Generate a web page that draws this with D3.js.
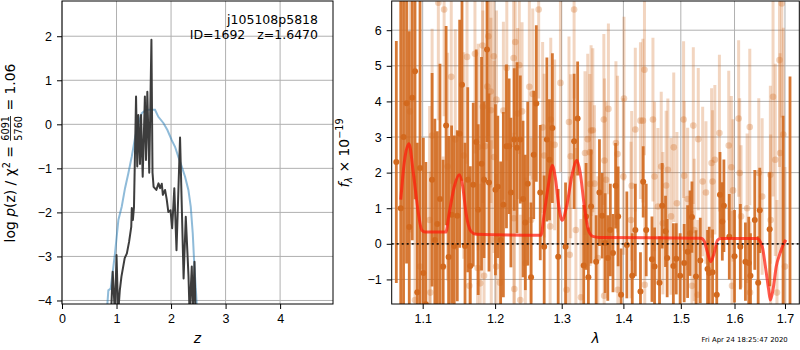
<!DOCTYPE html>
<html>
<head>
<meta charset="utf-8">
<script src="https://cdn.jsdelivr.net/npm/d3@7"></script>
<style>
body { margin: 0; background: #fff; }
svg { display: block; font-family: 'DejaVu Sans', sans-serif; }
.axis text { font-size: 12.5px; fill: #000; }
.axis line { stroke: #000; stroke-width: 1; }
.axis path { display: none; }
.grid line { stroke: #b0b0b0; stroke-width: 1; }
</style>
</head>
<body>
<svg id="chart" width="800" height="350"></svg>
<script>
// 刻度
var zTicks = [0, 1, 2, 3, 4];
var pzTicks = [-4, -3, -2, -1, 0, 1, 2];
var lamTicks = [1.1, 1.2, 1.3, 1.4, 1.5, 1.6, 1.7];
var fluxTicks = [-1, 0, 1, 2, 3, 4, 5, 6];

// log p(z) 黑线 [z, log p]
var pzFit = [[0.90, -4.3], [0.93, -3.35], [0.97, -4.3], [1.00, -2.97], [1.03, -4.3], [1.06, -3.77],
    [1.09, -3.46], [1.15, -3.04], [1.19, -2.93], [1.23, -2.67], [1.27, -2.33], [1.28, -1.9], [1.30, -2.17],
    [1.32, -1.88], [1.358, 0.63], [1.38, -0.96], [1.40, 0.21], [1.43, -0.9], [1.45, 0.21], [1.48, -1.19],
    [1.52, 0.63], [1.54, -0.81], [1.565, 0.74], [1.60, -1.1], [1.64, 1.92], [1.66, -1.1], [1.68, -1.42],
    [1.73, -1.49], [1.77, -1.34], [1.80, -1.45], [1.83, -1.35], [1.85, -1.6], [1.89, -1.49], [1.92, -1.7],
    [1.95, -1.99], [1.99, -1.95], [2.02, -2.36], [2.06, -1.45], [2.10, -2.86], [2.165, -0.3], [2.23, -3.5],
    [2.27, -2.1], [2.32, -3.45], [2.34, -4.3], [2.38, -3.23], [2.40, -4.3], [2.43, -3.12], [2.45, -4.3]];
// 先验 蓝线 [z, log p]
var pzPrior = [[0.82, -4.3], [0.85, -3.77], [0.893, -3.73], [0.972, -2.93], [1.034, -2.17], [1.095, -1.87],
    [1.156, -1.45], [1.217, -1.11], [1.278, -0.74], [1.339, -0.31], [1.40, 0.03], [1.462, 0.25],
    [1.541, 0.33], [1.627, 0.33], [1.706, 0.33], [1.767, 0.17], [1.859, 0.03], [1.933, -0.13],
    [2.012, -0.36], [2.073, -0.51], [2.134, -0.74], [2.196, -0.96], [2.257, -1.19], [2.318, -1.49],
    [2.361, -1.87], [2.398, -2.48], [2.428, -3.23], [2.459, -3.84], [2.48, -4.3]];

// 光谱 深色点 [lambda, flux, err]
var specDark = [[1.0657, 2.3, 3.4], [1.0714, 1.0, 6.5], [1.0750, 3.0, 5.0], [1.0789, 3.95, 4.5],
    [1.0824, 0.47, 5.5], [1.0863, 4.10, 4.0], [1.0899, 4.85, 3.6], [1.0929, -1.36, 4.2], [1.0965, 2.13, 4.8],
    [1.1009, -0.82, 3.8], [1.1042, -1.70, 4.0], [1.1125, 1.80, 3.0], [1.1162, 0.11, 3.4], [1.1195, 0.56, 2.6],
    [1.1231, 1.26, 3.8], [1.1273, -0.64, 3.0], [1.1314, 3.32, 2.8], [1.1348, -0.37, 3.4], [1.1389, 0.82, 2.5],
    [1.1425, -0.06, 3.1], [1.1467, 0.79, 2.4], [1.1500, 3.09, 3.2], [1.1532, 4.47, 2.7], [1.1574, -0.06, 2.9],
    [1.1612, 1.80, 2.6], [1.1648, -0.62, 2.8], [1.1689, 1.66, 2.3], [1.1731, 2.86, 2.6], [1.1759, 0.96, 2.4],
    [1.1806, 2.25, 3.0], [1.1842, 1.80, 2.2], [1.1884, 5.46, 2.6], [1.1912, 1.72, 2.5], [1.2005, 1.52, 2.4],
    [1.2039, 1.60, 2.0], [1.2080, 0.11, 2.2], [1.2120, 1.10, 2.6], [1.2165, 2.74, 2.3], [1.2204, 2.74, 1.9],
    [1.2230, 1.44, 2.1], [1.2279, 2.93, 2.0], [1.2320, 2.70, 2.4], [1.2369, 2.93, 1.8], [1.2410, 1.26, 2.2],
    [1.2444, 0.60, 1.9], [1.2480, 1.69, 2.3], [1.2530, -0.94, 2.1], [1.2570, 2.50, 1.8], [1.2609, 3.94, 2.2],
    [1.2669, 1.44, 1.9], [1.2729, -0.08, 2.0], [1.2770, 2.93, 2.3], [1.2810, 2.36, 1.7], [1.2855, 3.25, 2.1],
    [1.2945, -0.36, 1.9], [1.3060, -0.08, 1.8], [1.3195, 2.88, 1.9], [1.3251, 3.52, 1.6], [1.3348, -0.61, 1.7],
    [1.3386, 0.77, 1.5], [1.3423, -0.94, 1.4], [1.3467, 1.05, 1.6], [1.3549, -0.50, 1.3], [1.3603, 1.44, 1.5],
    [1.3647, 0.79, 1.2], [1.3696, 0.02, 1.4], [1.3740, -0.40, 1.2], [1.3782, 0.39, 1.3], [1.3826, -0.26, 1.1],
    [1.3870, 1.63, 1.2], [1.3912, 0.77, 1.4], [1.3961, -1.43, 1.3], [1.4058, -0.03, 1.5], [1.4150, -0.90, 1.2],
    [1.4202, 0.39, 1.3], [1.4290, -1.34, 1.1], [1.4337, 1.74, 1.0], [1.4389, 0.39, 1.3], [1.4489, -0.43, 1.2],
    [1.4534, -0.64, 1.1], [1.4621, -1.09, 1.3], [1.4668, 1.07, 1.2], [1.4727, 0.35, 1.0], [1.4756, -0.40, 1.1],
    [1.4866, -0.62, 1.2], [1.4918, -0.42, 1.0], [1.4988, -0.90, 1.2], [1.5061, -0.54, 1.1], [1.5123, -0.22, 1.3],
    [1.5166, 0.30, 1.2], [1.5202, 0.75, 1.0], [1.5276, -0.92, 1.3], [1.5355, -0.47, 1.2], [1.5490, -0.71, 1.1],
    [1.5521, -0.82, 1.3], [1.5583, -0.80, 1.2], [1.5662, -1.43, 1.4], [1.5723, 1.38, 1.2], [1.5767, 0.63, 1.1],
    [1.5797, 1.07, 1.3], [1.5900, 0.20, 1.2], [1.6000, -0.35, 1.3], [1.6112, -0.08, 1.2], [1.6211, -0.50, 1.1],
    [1.6276, -0.54, 1.3], [1.6309, -0.90, 1.2], [1.6394, 0.67, 1.4], [1.6461, -1.09, 1.3], [1.6493, 0.94, 1.2],
    [1.6690, 0.41, 1.6], [1.6961, -2.0, 5.6], [1.7103, -1.8, 6.5]];

// 光谱 浅色点 [lambda, flux, err]
var specLight = [[1.0832, 3.72, 3.4], [1.0899, -1.58, 3.5], [1.0965, -0.64, 3.6], [1.1092, 0.67, 3.2],
    [1.1102, -1.37, 3.4], [1.1125, 3.04, 3.0], [1.1209, 6.77, 3.3], [1.1273, -0.65, 3.1], [1.1287, 6.58, 3.0],
    [1.1334, 2.17, 3.2], [1.1384, 4.69, 3.0], [1.1439, 2.93, 3.1], [1.1556, 2.48, 2.9], [1.1602, 5.25, 3.0],
    [1.1634, -1.18, 3.1], [1.1713, 5.34, 2.8], [1.1750, -0.68, 3.0], [1.1759, 2.72, 2.9], [1.1787, -1.11, 2.8],
    [1.1820, 5.57, 2.9], [1.1825, 3.85, 2.7], [1.1842, -0.90, 2.8], [1.1856, 2.74, 2.7], [1.1889, 4.42, 2.6],
    [1.1903, 5.83, 2.8], [1.1935, 4.28, 2.7], [1.1940, 3.75, 2.6], [1.1945, 0.11, 2.8], [1.1981, 5.27, 2.6],
    [1.1985, 2.44, 2.7], [1.2015, -0.64, 2.6], [1.2020, 4.05, 2.5], [1.2070, -1.09, 2.6], [1.2120, 3.74, 2.5],
    [1.2170, 4.94, 2.6], [1.2270, 5.22, 2.5], [1.2275, 0.72, 2.4], [1.2280, -1.27, 2.5], [1.2294, 5.67, 2.6],
    [1.2330, 3.66, 2.4], [1.2354, 5.02, 2.5], [1.2369, -1.58, 2.4], [1.2395, 3.72, 2.5], [1.2444, -0.54, 2.4],
    [1.2504, 4.41, 2.5], [1.2530, 0.67, 2.3], [1.2555, 4.21, 2.4], [1.2645, 6.58, 2.5], [1.2705, 3.27, 2.4],
    [1.2729, 2.48, 2.3], [1.2820, 0.49, 2.4], [1.2830, 3.49, 2.3], [1.2890, 2.78, 2.4], [1.2980, 4.52, 2.5],
    [1.3076, -1.29, 2.3], [1.3114, 3.42, 2.4], [1.3125, -0.31, 2.2], [1.3141, 2.46, 2.3], [1.3195, 6.58, 2.5],
    [1.3223, 0.39, 2.3], [1.3304, -1.50, 2.2], [1.3369, 2.55, 2.3], [1.3413, 2.94, 2.4], [1.3446, 2.57, 2.2],
    [1.3451, 1.68, 2.3], [1.3467, 3.18, 2.4], [1.3495, 3.19, 2.3], [1.3522, 1.69, 2.2], [1.3577, -0.40, 2.3],
    [1.3675, 3.49, 2.4], [1.3680, -1.46, 2.2], [1.3685, 2.34, 2.3], [1.3712, 1.80, 2.2], [1.3750, 3.79, 2.4],
    [1.3875, 2.83, 2.3], [1.3902, 2.52, 2.2], [1.3907, -1.29, 2.3], [1.4000, 1.89, 2.2], [1.4010, 4.08, 2.3],
    [1.4128, 0.67, 2.2], [1.4140, 1.63, 2.1], [1.4202, 3.21, 2.3], [1.4290, 3.46, 2.2], [1.4332, 3.46, 2.3],
    [1.4359, 4.89, 2.4], [1.4364, -1.15, 2.2], [1.4506, 3.49, 2.3], [1.4534, 1.89, 2.1], [1.4593, 1.05, 2.2],
    [1.4651, 2.17, 2.1], [1.4680, 0.58, 2.0], [1.4738, 1.64, 2.1], [1.4768, 2.08, 2.0], [1.4825, 0.77, 2.2],
    [1.4873, 2.71, 2.1], [1.4930, 1.14, 2.0], [1.5050, 3.49, 2.2], [1.5061, 1.91, 2.1], [1.5123, 1.26, 2.0],
    [1.5202, -1.18, 2.1], [1.5227, 3.32, 2.2], [1.5245, 0.39, 2.0], [1.5307, -1.43, 2.1], [1.5318, 2.94, 2.0],
    [1.5399, 1.75, 2.1], [1.5460, 1.44, 2.0], [1.5565, 2.27, 2.1], [1.5583, 1.75, 2.0], [1.5626, 2.36, 2.1],
    [1.5712, 3.11, 2.2], [1.5889, 2.76, 2.1], [1.5939, 2.15, 2.0], [1.5952, -1.18, 2.1], [1.5971, 1.50, 2.0],
    [1.6079, 3.52, 2.2], [1.6099, 1.99, 2.1], [1.6126, 0.77, 2.0], [1.6244, 1.00, 2.1], [1.6296, 3.28, 2.2],
    [1.6301, -1.37, 2.0], [1.6473, 1.99, 2.1], [1.6540, 1.33, 2.2], [1.6704, 1.94, 2.5], [1.6710, 0.67, 2.4],
    [1.6758, 4.13, 2.8], [1.6803, 2.36, 2.7], [1.6837, -1.37, 2.6], [1.6888, 5.16, 3.0], [1.6901, 2.55, 2.8],
    [1.6935, 6.75, 3.2], [1.6966, 3.07, 3.0], [1.7000, -0.64, 2.8]];

// 模型 红线 [lambda, flux]
var specModel = [[1.0714, 1.24], [1.0760, 2.3], [1.0820, 2.81], [1.0877, 1.99], [1.0943, 0.86], [1.0987, 0.39],
    [1.1032, 0.33], [1.1310, 0.33], [1.1356, 0.86], [1.1426, 1.61], [1.1495, 1.94], [1.1542, 1.61],
    [1.1588, 0.86], [1.1657, 0.35], [1.1727, 0.27], [1.2680, 0.24], [1.2730, 0.86], [1.2790, 1.61],
    [1.2855, 2.2], [1.2905, 1.8], [1.2955, 1.05], [1.3006, 0.66], [1.3076, 1.05], [1.3169, 1.99],
    [1.3239, 2.34], [1.3293, 1.99], [1.3358, 1.05], [1.3423, 0.39], [1.3495, 0.21], [1.3600, 0.18],
    [1.5368, 0.16], [1.5429, 0.07], [1.5491, -0.26], [1.5552, -0.5], [1.5613, -0.26], [1.5675, 0.10],
    [1.5736, 0.15], [1.6441, 0.15], [1.6540, -0.07], [1.6605, -0.64], [1.6670, -1.29], [1.6704, -1.58],
    [1.6757, -1.29], [1.6822, -0.64], [1.6901, -0.26], [1.6980, 0.02], [1.7020, 0.11]];

var svg = d3.select('#chart');
// 两个坐标区
var pzBox = {left: 62, right: 333, top: 1, bottom: 304};
var specBox = {left: 391.7, right: 799.3, top: 1, bottom: 304};

var zX = d3.scaleLinear().domain([0, 4.97]).range([pzBox.left, pzBox.right]);
var pzY = d3.scaleLinear().domain([-4.08, 2.8]).range([pzBox.bottom, pzBox.top]);
var lamX = d3.scaleLog().domain([1.0598, 1.7295]).range([specBox.left, specBox.right]);
var fluxY = d3.scaleLinear().domain([-1.69, 6.82]).range([specBox.bottom, specBox.top]);

var defs = svg.append('defs');
function addClip(id, box) {
    defs.append('clipPath').attr('id', id).append('rect')
        .attr('x', box.left).attr('y', box.top)
        .attr('width', box.right - box.left).attr('height', box.bottom - box.top);
}
addClip('clip-pz', pzBox);
addClip('clip-spec', specBox);

// 网格
function drawGrid(box, x, xTicks, y, yTicks) {
    var g = svg.append('g').attr('class', 'grid');
    g.selectAll('.gx').data(xTicks).enter().append('line')
        .attr('x1', x).attr('x2', x)
        .attr('y1', box.top).attr('y2', box.bottom);
    g.selectAll('.gy').data(yTicks).enter().append('line')
        .attr('x1', box.left).attr('x2', box.right)
        .attr('y1', y).attr('y2', y);
}
drawGrid(pzBox, zX, zTicks, pzY, pzTicks);
drawGrid(specBox, lamX, lamTicks, fluxY, fluxTicks);

// 左图: p(z)
var pzLine = d3.line()
    .x(function(d) { return zX(d[0]); })
    .y(function(d) { return pzY(d[1]); });
var pzG = svg.append('g').attr('clip-path', 'url(#clip-pz)');
pzG.append('path').attr('d', pzLine(pzPrior))
    .attr('fill', 'none').attr('stroke', '#1f77b4').attr('stroke-opacity', 0.5).attr('stroke-width', 2);
pzG.append('path').attr('d', pzLine(pzFit))
    .attr('fill', 'none').attr('stroke', '#333').attr('stroke-opacity', 0.95).attr('stroke-width', 2)
    .attr('stroke-linejoin', 'round');

// 右图: 光谱
var specG = svg.append('g').attr('clip-path', 'url(#clip-spec)');
function drawPoints(data, barWidth, barOpacity, r, dotOpacity) {
    var g = specG.append('g');
    g.selectAll('line').data(data).enter().append('line')
        .attr('x1', function(d) { return lamX(d[0]); })
        .attr('x2', function(d) { return lamX(d[0]); })
        .attr('y1', function(d) { return fluxY(d[1] - d[2]); })
        .attr('y2', function(d) { return fluxY(d[1] + d[2]); })
        .attr('stroke', '#d2691e').attr('stroke-width', barWidth).attr('stroke-opacity', barOpacity);
    g.selectAll('circle').data(data).enter().append('circle')
        .attr('cx', function(d) { return lamX(d[0]); })
        .attr('cy', function(d) { return fluxY(d[1]); })
        .attr('r', r)
        .attr('fill', '#d2691e').attr('fill-opacity', dotOpacity);
}
drawPoints(specLight, 3, 0.28, 3.3, 0.3);
drawPoints(specDark, 2.8, 0.9, 3, 1);

var modelLine = d3.line()
    .curve(d3.curveMonotoneX)
    .x(function(d) { return lamX(d[0]); })
    .y(function(d) { return fluxY(d[1]); });
specG.append('path').attr('d', modelLine(specModel))
    .attr('fill', 'none').attr('stroke', '#ff1a0a').attr('stroke-opacity', 0.72).attr('stroke-width', 3);
// 零线
specG.append('line')
    .attr('x1', specBox.left).attr('x2', specBox.right)
    .attr('y1', fluxY(0)).attr('y2', fluxY(0))
    .attr('stroke', '#000').attr('stroke-width', 1.6).attr('stroke-dasharray', '2,3').attr('stroke-opacity', 0.85);

// 坐标轴
function drawAxes(box, x, xTicks, xFmt, y, yTicks) {
    svg.append('g').attr('class', 'axis')
        .attr('transform', 'translate(0,' + box.bottom + ')')
        .call(d3.axisBottom(x).tickValues(xTicks).tickFormat(xFmt).tickSize(5).tickPadding(5));
    svg.append('g').attr('class', 'axis')
        .attr('transform', 'translate(' + box.left + ',0)')
        .call(d3.axisLeft(y).tickValues(yTicks).tickFormat(d3.format('d')).tickSize(5).tickPadding(5));
    svg.append('rect')
        .attr('x', box.left).attr('y', box.top)
        .attr('width', box.right - box.left).attr('height', box.bottom - box.top)
        .attr('fill', 'none').attr('stroke', '#000').attr('stroke-width', 1);
}
drawAxes(pzBox, zX, zTicks, d3.format('d'), pzY, pzTicks);
drawAxes(specBox, lamX, lamTicks, d3.format('.1f'), fluxY, fluxTicks);

// 注释
var note = svg.append('text').attr('text-anchor', 'end').attr('font-size', 12.5);
note.append('tspan').attr('x', 318).attr('y', 24).text('j105108p5818');
note.append('tspan').attr('x', 318).attr('y', 38.5).attr('xml:space', 'preserve').text('ID=1692   z=1.6470');

// x 轴标签
svg.append('text').attr('x', (pzBox.left + pzBox.right) / 2).attr('y', 343)
    .attr('text-anchor', 'middle').attr('font-size', 13.9).attr('font-style', 'italic').text('z');
svg.append('text').attr('x', (specBox.left + specBox.right) / 2).attr('y', 343)
    .attr('text-anchor', 'middle').attr('font-size', 13.9).attr('font-style', 'italic').text('λ');

// 左 y 轴标签 (含分数)
var lab = svg.append('g');
var t1 = lab.append('text').attr('font-size', 13.9).attr('xml:space', 'preserve');
t1.append('tspan').text('log ');
t1.append('tspan').attr('font-style', 'italic').text('p');
t1.append('tspan').text('(z) / χ');
t1.append('tspan').attr('font-size', 9.7).attr('dy', -5.5).text('2');
t1.append('tspan').attr('dy', 5.5).text(' = ');
var w1 = t1.node().getComputedTextLength();
var num = lab.append('text').attr('font-size', 9.7).attr('text-anchor', 'middle').attr('y', -6.5).text('6091');
var den = lab.append('text').attr('font-size', 9.7).attr('text-anchor', 'middle').attr('y', 6.5).text('5760');
var fw = Math.max(num.node().getComputedTextLength(), den.node().getComputedTextLength());
num.attr('x', w1 + fw / 2 + 1);
den.attr('x', w1 + fw / 2 + 1);
lab.append('line').attr('x1', w1 + 1).attr('x2', w1 + fw + 1).attr('y1', -4.5).attr('y2', -4.5)
    .attr('stroke', '#000').attr('stroke-width', 0.8);
var t2 = lab.append('text').attr('font-size', 13.9).attr('xml:space', 'preserve')
    .attr('x', w1 + fw + 2).text(' = 1.06');
var total = w1 + fw + 2 + t2.node().getComputedTextLength();
lab.attr('transform', 'translate(15,' + (153 + total / 2) + ') rotate(-90)');

// 右 y 轴标签
var lab2 = svg.append('text').attr('font-size', 13.9).attr('text-anchor', 'middle')
    .attr('transform', 'translate(348.5,153) rotate(-90)');
lab2.append('tspan').attr('font-style', 'italic').text('f');
lab2.append('tspan').attr('font-size', 9.7).attr('dy', 3).attr('font-style', 'italic').text('λ');
lab2.append('tspan').attr('dy', -3).text(' × 10');
lab2.append('tspan').attr('font-size', 9.7).attr('dy', -5.5).text('−19');

// 时间戳
svg.append('text').attr('x', 787.7).attr('y', 342).attr('text-anchor', 'end')
    .attr('font-size', 6.9).text('Fri Apr 24 18:25:47 2020');
</script>
</body>
</html>
